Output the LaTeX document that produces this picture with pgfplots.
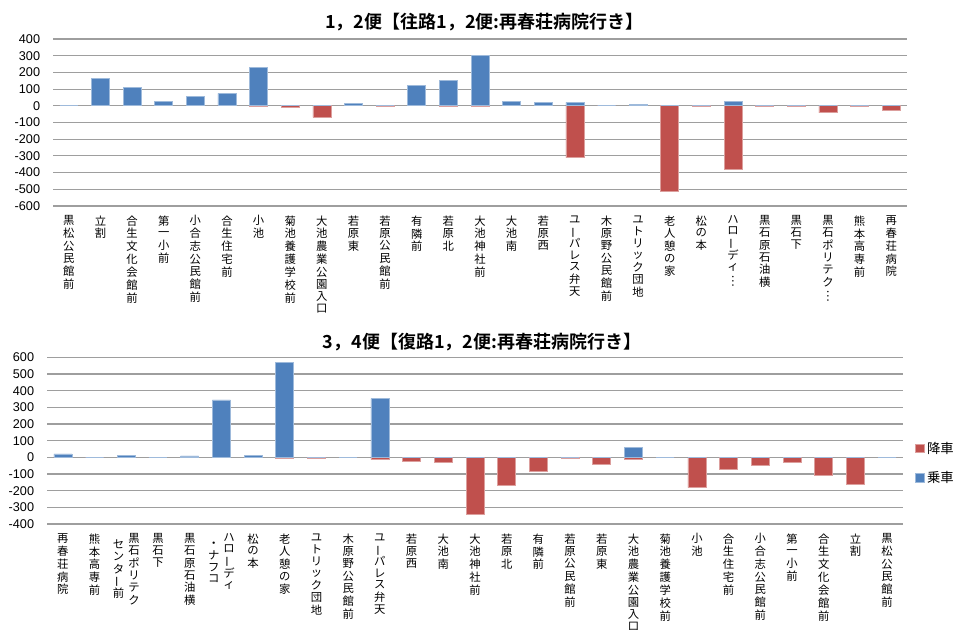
\documentclass[border=0pt]{standalone}
\usepackage{fontspec}
\usepackage{graphicx}
\usepackage{pgfplots}
\pgfplotsset{compat=1.18}
\setmainfont{Liberation Sans}
\newfontfamily\cjk{Noto Sans CJK JP}[BoldFont={Noto Sans CJK JP Bold}]
\definecolor{board}{HTML}{4F81BD}
\definecolor{alight}{HTML}{C0504D}
\newcommand\vt[1]{\begin{tabular}[c]{@{}c@{}}#1\end{tabular}}
\newcommand\vb{\rotatebox[origin=c]{90}{ー}}
\newcommand\vd{\rotatebox[origin=c]{90}{…}}
\pgfplotsset{
  busaxis/.style={
    scale only axis,
    xmin=-0.5, xmax=26.5,
    xtick={0,...,26},
    axis line style={draw=none},
    tick style={draw=none},
    ymajorgrids,
    major grid style={draw=black!38, line width=0.9pt},
    /pgf/number format/assume math mode=true,
    yticklabel style={font=\fontsize{9.5}{11}\selectfont, inner sep=0pt, anchor=east, xshift=-9.5pt},
    xticklabel style={font=\cjk\fontsize{8.5}{8.45}\selectfont, inner sep=0pt, anchor=north, yshift=-7pt},
    clip=false,
  },
  boardbar/.style={ybar, bar width=13.5pt, bar shift=0pt, fill=board, draw=board!55!white, line width=0.5pt},
  alightbar/.style={ybar, bar width=13.5pt, bar shift=0pt, fill=alight, draw=alight!55!white, line width=0.5pt},
}
\begin{document}
\begin{tikzpicture}
\path[use as bounding box] (0,0) rectangle (717.75pt,-472.5pt);
\node[font=\cjk\bfseries\fontsize{13.5}{16}\selectfont] at (363.4pt,-16.3pt) {1，2便【往路1，2便:再春荘病院行き】};
\node[font=\cjk\bfseries\fontsize{13.5}{16}\selectfont] at (361.5pt,-256.3pt) {3，4便【復路1，2便:再春荘病院行き】};
\begin{axis}[busaxis,
  at={(39.75pt,-154.5pt)}, anchor=south west,
  width=640.5pt, height=125.25pt,
  ymin=-600, ymax=400, ytick={-600,-500,...,400},
  xticklabels={
{\vt{黒\\松\\公\\民\\館\\前}},
{\vt{立\\割}},
{\vt{合\\生\\文\\化\\会\\館\\前}},
{\vt{第\\一\\小\\前}},
{\vt{小\\合\\志\\公\\民\\館\\前}},
{\vt{合\\生\\住\\宅\\前}},
{\vt{小\\池}},
{\vt{菊\\池\\養\\護\\学\\校\\前}},
{\vt{大\\池\\農\\業\\公\\園\\入\\口}},
{\vt{若\\原\\東}},
{\vt{若\\原\\公\\民\\館\\前}},
{\vt{有\\隣\\前}},
{\vt{若\\原\\北}},
{\vt{大\\池\\神\\社\\前}},
{\vt{大\\池\\南}},
{\vt{若\\原\\西}},
{\vt{ユ\\\vb\\パ\\レ\\ス\\弁\\天}},
{\vt{木\\原\\野\\公\\民\\館\\前}},
{\vt{ユ\\ト\\リ\\ッ\\ク\\団\\地}},
{\vt{老\\人\\憩\\の\\家}},
{\vt{松\\の\\本}},
{\vt{ハ\\ロ\\\vb\\デ\\ィ\\\vd}},
{\vt{黒\\石\\原\\石\\油\\横}},
{\vt{黒\\石\\下}},
{\vt{黒\\石\\ポ\\リ\\テ\\ク\\\vd}},
{\vt{熊\\本\\高\\専\\前}},
{\vt{再\\春\\荘\\病\\院}}
  },
]
\addplot[alightbar] coordinates {
(0,0) (1,0) (2,0) (3,0) (4,0) (5,0) (6,-3) (7,-12) (8,-70) (9,0)
(10,-3) (11,0) (12,-2) (13,-3) (14,0) (15,0) (16,-310) (17,0) (18,0) (19,-512)
(20,-2) (21,-382) (22,-6) (23,-4) (24,-42) (25,-2) (26,-30)
};
\addplot[boardbar] coordinates {
(0,0) (1,164) (2,110) (3,28) (4,58) (5,74) (6,228) (7,0) (8,0) (9,14)
(10,0) (11,124) (12,150) (13,302) (14,24) (15,18) (16,20) (17,0) (18,10) (19,0)
(20,0) (21,26) (22,0) (23,0) (24,0) (25,0) (26,0)
};
\end{axis}
\begin{axis}[busaxis,
  at={(35.25pt,-393pt)}, anchor=south west,
  width=642pt, height=125pt,
  ymin=-400, ymax=600, ytick={-400,-300,...,600},
  legend style={draw=none, fill=none, inner sep=0pt, at={(1.014,0.366)}, anchor=west,
    font=\cjk\fontsize{10}{12}\selectfont, row sep=8pt, cells={anchor=west}},
  legend image code/.code={\fill[#1] (0pt,-3.2pt) rectangle (6.4pt,3.2pt);},
  xticklabels={
{\vt{再\\春\\荘\\病\\院}},
{\vt{熊\\本\\高\\専\\前}},
{\vt{セ\\ン\\タ\\\vb\\前}\hspace{3pt}\vt{黒\\石\\ポ\\リ\\テ\\ク}},
{\vt{黒\\石\\下}},
{\vt{黒\\石\\原\\石\\油\\横}},
{\vt{・\\ナ\\フ\\コ}\hspace{3pt}\vt{ハ\\ロ\\\vb\\デ\\ィ}},
{\vt{松\\の\\本}},
{\vt{老\\人\\憩\\の\\家}},
{\vt{ユ\\ト\\リ\\ッ\\ク\\団\\地}},
{\vt{木\\原\\野\\公\\民\\館\\前}},
{\vt{ユ\\\vb\\パ\\レ\\ス\\弁\\天}},
{\vt{若\\原\\西}},
{\vt{大\\池\\南}},
{\vt{大\\池\\神\\社\\前}},
{\vt{若\\原\\北}},
{\vt{有\\隣\\前}},
{\vt{若\\原\\公\\民\\館\\前}},
{\vt{若\\原\\東}},
{\vt{大\\池\\農\\業\\公\\園\\入\\口}},
{\vt{菊\\池\\養\\護\\学\\校\\前}},
{\vt{小\\池}},
{\vt{合\\生\\住\\宅\\前}},
{\vt{小\\合\\志\\公\\民\\館\\前}},
{\vt{第\\一\\小\\前}},
{\vt{合\\生\\文\\化\\会\\館\\前}},
{\vt{立\\割}},
{\vt{黒\\松\\公\\民\\館\\前}}
  },
]
\addplot[alightbar] coordinates {
(0,0) (1,0) (2,0) (3,0) (4,0) (5,0) (6,0) (7,-4) (8,-8) (9,0)
(10,-14) (11,-26) (12,-28) (13,-342) (14,-166) (15,-82) (16,-8) (17,-44) (18,-12) (19,0)
(20,-182) (21,-70) (22,-46) (23,-28) (24,-108) (25,-162) (26,0)
};
\addlegendentry{降車}
\addplot[boardbar] coordinates {
(0,20) (1,0) (2,12) (3,0) (4,8) (5,344) (6,12) (7,570) (8,0) (9,0)
(10,352) (11,0) (12,0) (13,0) (14,0) (15,0) (16,0) (17,0) (18,60) (19,0)
(20,0) (21,0) (22,0) (23,0) (24,0) (25,0) (26,0)
};
\addlegendentry{乗車}
\end{axis}
\end{tikzpicture}
\end{document}
